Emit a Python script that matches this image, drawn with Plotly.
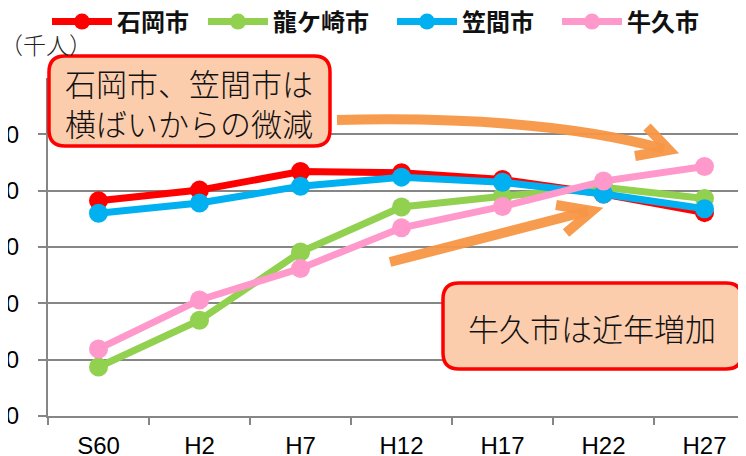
import plotly.graph_objects as go

years = ["S60", "H2", "H7", "H12", "H17", "H22", "H27"]
ishioka = [78.2, 80.1, 83.4, 83.2, 82.0, 79.4, 76.1]
ryugasaki = [48.7, 57.0, 69.1, 77.1, 79.0, 80.6, 78.6]
kasama = [76.0, 77.8, 80.8, 82.4, 81.5, 79.4, 76.8]
ushiku = [51.9, 60.6, 66.2, 73.4, 77.2, 81.7, 84.3]

names = ["石岡市", "龍ケ崎市", "笠間市", "牛久市"]
colors = ["#FF0000", "#92D050", "#00B0F0", "#FF99CC"]
series = [ishioka, ryugasaki, kasama, ushiku]

# page has an 8px body margin, so positions below are given on screen and shifted
OFF = 8
W, H = 746, 456
L, R, T, B = 48 - OFF, 0, 78 - OFF, H - (416 - OFF)
pw, ph = W - L - R, H - T - B
cat_px = 101.0
x_hi = -0.5 + pw / cat_px


def px(x):
    return (x - OFF - L) / pw


def py(y):
    return (H - B - (y - OFF)) / ph


fig = go.Figure()
legend_x = [47, 203, 392, 557]
for i, (name, col, vals) in enumerate(zip(names, colors, series)):
    lg = "legend" if i == 0 else "legend%d" % (i + 1)
    fig.add_trace(go.Scatter(
        x=years, y=vals, name=name, mode="lines+markers",
        line=dict(color=col, width=7),
        marker=dict(color=col, size=19),
        legend=lg, showlegend=True,
    ))
    fig.layout[lg] = dict(
        x=(legend_x[i] - OFF) / W, xref="container", xanchor="left",
        y=1 - (22 - OFF) / H, yref="container", yanchor="middle",
        orientation="h", itemwidth=60, bgcolor="rgba(0,0,0,0)",
        font=dict(family="Noto Sans CJK JP", size=24, color="#111", weight="bold"),
    )


def rounded(x0, y0, x1, y1, r):
    return ("M{},{} L{},{} Q{},{} {},{} L{},{} Q{},{} {},{} L{},{} Q{},{} {},{} "
            "L{},{} Q{},{} {},{} Z").format(
        px(x0 + r), py(y0), px(x1 - r), py(y0), px(x1), py(y0), px(x1), py(y0 + r),
        px(x1), py(y1 - r), px(x1), py(y1), px(x1 - r), py(y1),
        px(x0 + r), py(y1), px(x0), py(y1), px(x0), py(y1 - r),
        px(x0), py(y0 + r), px(x0), py(y0), px(x0 + r), py(y0))


def path(pts):
    s = "M{},{}".format(px(pts[0][0]), py(pts[0][1]))
    for p in pts[1:]:
        s += " L{},{}".format(px(p[0]), py(p[1]))
    return s


orange = "rgba(247,150,70,0.95)"
shapes = []
# curved arrow
shapes.append(dict(type="path", xref="paper", yref="paper",
                   path="M{},{} Q{},{} {},{}".format(px(337), py(120), px(540), py(115), px(664), py(149)),
                   line=dict(color=orange, width=10)))
shapes.append(dict(type="path", xref="paper", yref="paper",
                   path=path([(647, 127), (669, 150), (635, 156)]),
                   line=dict(color=orange, width=10)))
# straight arrow
shapes.append(dict(type="path", xref="paper", yref="paper",
                   path=path([(390, 262), (588, 211)]),
                   line=dict(color=orange, width=10)))
shapes.append(dict(type="path", xref="paper", yref="paper",
                   path=path([(556, 205), (592, 211), (566, 233)]),
                   line=dict(color=orange, width=10)))
# callout boxes
shapes.append(dict(type="path", xref="paper", yref="paper",
                   path=rounded(49, 56, 330, 146, 16),
                   fillcolor="#FCCDAD", line=dict(color="#FF0000", width=3.5)))
shapes.append(dict(type="path", xref="paper", yref="paper",
                   path=rounded(443, 283, 742, 369, 16),
                   fillcolor="#FCCDAD", line=dict(color="#FF0000", width=3.5)))

box_font = dict(family="Noto Sans CJK JP", size=31, color="#111", weight=300)
annotations = [
    dict(text="石岡市、笠間市は<br>横ばいからの微減", xref="paper", yref="paper",
         x=px(189), y=py(102), xanchor="center", yanchor="middle",
         showarrow=False, font=box_font, align="left"),
    dict(text="牛久市は近年増加", xref="paper", yref="paper",
         x=px(592), y=py(327), xanchor="center", yanchor="middle",
         showarrow=False, font=box_font),
    dict(text="（千人）", xref="paper", yref="paper",
         x=px(46), y=py(44), xanchor="center", yanchor="middle", showarrow=False,
         font=dict(family="Noto Sans CJK JP", size=23, color="#222", weight=300)),
]

fig.update_layout(
    width=W, height=H,
    margin=dict(l=L, r=R, t=T, b=B, autoexpand=False),
    paper_bgcolor="white", plot_bgcolor="white", showlegend=True,
    shapes=shapes, annotations=annotations,
    xaxis=dict(
        range=[-0.5, x_hi], showgrid=False, showline=True, linecolor="#868686",
        linewidth=2, ticks="outside", tickson="boundaries", ticklen=7,
        tickcolor="#868686", tickwidth=2, ticklabelstandoff=7, automargin=False,
        tickfont=dict(family="Liberation Sans", size=24, color="#000"),
    ),
    yaxis=dict(
        range=[40, 100], tickvals=[40, 50, 60, 70, 80, 90], showgrid=True,
        gridcolor="#868686", gridwidth=2, showline=True, linecolor="#868686",
        linewidth=2, ticks="outside", ticklen=8, tickcolor="#868686", tickwidth=2,
        ticklabelstandoff=14, zeroline=False, automargin=False,
        tickfont=dict(family="Liberation Sans", size=24, color="#000"),
    ),
)

fig.write_html("out.html")
